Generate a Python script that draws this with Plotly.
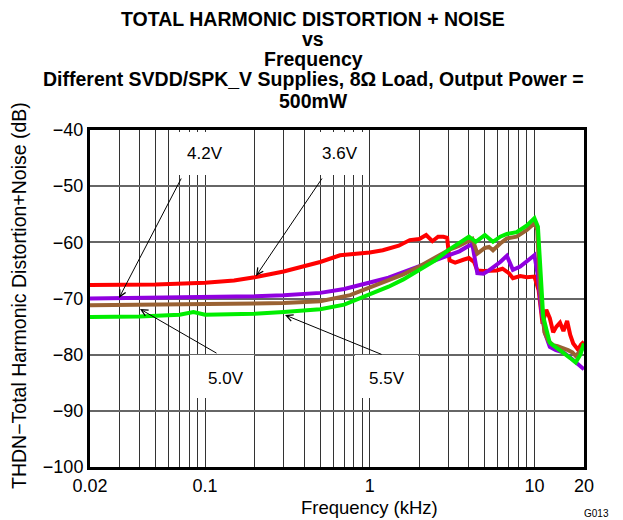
import math
import plotly.graph_objects as go

# ---------------- data ----------------
f_36 = [0.02, 0.05, 0.1, 0.15, 0.2, 0.3, 0.5, 0.66, 1.0, 1.2, 1.5, 1.75, 2.0, 2.2, 2.4, 2.6, 2.8, 2.95,
        3.05, 3.3, 3.7, 4.0, 4.3, 4.5, 4.9, 5.9, 6.4, 7.0, 7.4, 8.2, 9.0, 10.0, 10.6, 11.2, 11.8, 12.4,
        13.0, 13.6, 14.3, 15.0, 15.8, 16.5, 17.2, 18.4, 19.2, 20.0]
db_36 = [-67.6, -67.5, -67.2, -66.8, -66.2, -65.2, -63.5, -62.3, -61.8, -61.4, -60.6, -59.6, -59.4, -58.7,
         -59.8, -59.0, -59.0, -59.2, -63.2, -63.6, -63.1, -62.8, -63.5, -65.0, -65.1, -65.0, -64.7, -65.5,
         -66.4, -66.0, -66.2, -66.1, -68.5, -74.5, -72.0, -73.5, -76.0, -75.0, -74.3, -75.8, -74.0, -76.5,
         -78.0, -79.1, -78.2, -77.7]

f_42 = [0.02, 0.05, 0.1, 0.2, 0.3, 0.5, 0.7, 1.0, 1.3, 1.6, 2.0, 2.5, 3.0, 3.5, 4.0, 4.2, 4.5, 4.9, 5.3,
        5.6, 6.2, 6.8, 7.1, 7.4, 8.2, 9.0, 10.0, 10.5, 11.0, 11.6, 12.4, 13.5, 15.0, 16.5, 18.0, 20.0]
db_42 = [-70.0, -69.9, -69.8, -69.6, -69.4, -69.0, -68.3, -67.2, -66.3, -65.3, -64.2, -63.2, -62.2, -61.6,
         -60.6, -60.4, -65.5, -65.6, -65.0, -64.5, -63.5, -62.4, -63.8, -64.9, -64.3, -63.3, -62.3, -66.0,
         -72.0, -76.2, -78.6, -79.2, -79.6, -80.5, -81.5, -82.6]

f_50 = [0.02, 0.05, 0.1, 0.2, 0.3, 0.5, 0.76, 1.0, 1.3, 1.6, 2.0, 2.6, 3.0, 3.5, 4.0, 4.2, 4.5, 5.0, 5.3,
        5.6, 6.2, 6.8, 7.8, 9.0, 10.0, 10.4, 10.8, 11.5, 12.2, 13.0, 13.8, 15.0, 16.0, 17.0, 17.8, 18.8, 20.0]
db_50 = [-71.2, -71.1, -71.1, -70.9, -70.8, -70.5, -69.4, -68.0, -66.8, -65.7, -64.3, -62.5, -61.4, -60.6,
         -59.6, -59.4, -62.0, -61.0, -60.8, -61.4, -60.2, -59.3, -59.0, -57.8, -56.6, -57.8, -68.0, -76.0,
         -77.6, -78.3, -78.5, -78.8, -79.2, -79.6, -80.2, -79.5, -78.5]

f_55 = [0.02, 0.04, 0.07, 0.085, 0.1, 0.2, 0.3, 0.5, 0.7, 1.0, 1.3, 1.6, 2.0, 2.5, 3.0, 3.5, 4.0, 4.4,
        5.0, 5.6, 6.2, 6.8, 7.8, 9.0, 10.0, 10.5, 11.3, 12.4, 13.5, 15.0, 16.5, 17.8, 19.0, 20.0]
db_55 = [-73.3, -73.2, -72.9, -72.4, -72.9, -72.7, -72.4, -71.9, -71.1, -69.3, -67.9, -66.6, -65.0, -63.2,
         -61.4, -60.0, -59.0, -59.9, -58.7, -59.9, -59.0, -58.5, -58.2, -57.0, -55.7, -57.2, -73.2, -77.9,
         -78.8, -79.7, -80.6, -81.4, -80.0, -78.0]

series_names = ["3.6V", "4.2V", "5.0V", "5.5V"]

x_ticks = [0.02, 0.03, 0.04, 0.05, 0.06, 0.07, 0.08, 0.09, 0.1, 0.2, 0.3, 0.4, 0.5, 0.6, 0.7, 0.8, 0.9,
           1, 2, 3, 4, 5, 6, 7, 8, 9, 10, 20]
x_labels = {0.02: "0.02", 0.1: "0.1", 1: "1", 10: "10", 20: "20"}
y_ticks = [-100, -90, -80, -70, -60, -50, -40]

FONT = "Liberation Sans, Arial, sans-serif"

W, H = 623, 520
PL, PR, PT, PB = 90, 584, 130, 467          # plot-area edges in window pixels
XMIN, XMAX = math.log10(0.02), math.log10(20)
YMIN, YMAX = -100, -40


def px(xw):                      # window x -> paper
    return (xw - PL) / (PR - PL)


def py(yw):                      # window y -> paper
    return (PB - yw) / (PB - PT)


def lx(xw):                      # window x -> log10 data x
    return XMIN + (XMAX - XMIN) * px(xw)


def dy(yw):                      # window y -> data y
    return YMIN + (YMAX - YMIN) * py(yw)


fig = go.Figure()
colors = ["#ff0000", "#9000e0", "#9a6233", "#00ee00"]
for name, fx, fy, c in zip(series_names, [f_36, f_42, f_50, f_55], [db_36, db_42, db_50, db_55], colors):
    fig.add_trace(go.Scatter(x=fx, y=fy, mode="lines", name=name,
                             line=dict(color=c, width=4), showlegend=False))

fig.update_xaxes(type="log", range=[XMIN, XMAX],
                 tickvals=x_ticks, ticktext=[x_labels.get(v, "") for v in x_ticks],
                 showgrid=True, gridcolor="#333333", gridwidth=1,
                 showline=True, mirror=True, linecolor="black", linewidth=3,
                 ticks="", tickfont=dict(family=FONT, size=18, color="black"))
fig.update_yaxes(range=[YMIN, YMAX], tickvals=y_ticks,
                 ticktext=["\u2212" + str(abs(v)) for v in y_ticks],
                 showgrid=True, gridcolor="#666666", gridwidth=1.5,
                 showline=True, mirror=True, linecolor="black", linewidth=3,
                 ticks="", tickfont=dict(family=FONT, size=18, color="black"), zeroline=False)

# white label boxes (x0, x1, y0, y1 window px) with text centre
boxes = [("4.2V", 170, 254, 132, 175, 205, 153), ("3.6V", 306, 369, 132, 175, 340, 153),
         ("5.0V", 190, 254, 355, 398, 226, 378), ("5.5V", 355, 418, 355, 398, 387, 378)]
for t, x0, x1, y0, y1, tx, ty in boxes:
    fig.add_shape(type="rect", xref="x", yref="y", x0=10 ** lx(x0), x1=10 ** lx(x1), y0=dy(y1), y1=dy(y0),
                  fillcolor="white", line=dict(width=0), layer="above")
    fig.add_annotation(x=lx(tx), y=dy(ty), text=t, showarrow=False,
                       font=dict(family=FONT, size=17, color="black"))

# arrows (tail window px, head window px)
arrows = [((182, 177), (119, 298)), ((323, 177), (256, 276)),
          ((218, 354), (140, 309)), ((383, 355), (285, 315))]
for (tx, ty), (hx, hy) in arrows:
    fig.add_annotation(x=lx(hx), y=dy(hy), ax=lx(tx), ay=dy(ty), axref="x", ayref="y", text="",
                       showarrow=True, arrowhead=5, arrowsize=1.3, arrowwidth=1, arrowcolor="black",
                       standoff=0)

title_lines = [("TOTAL HARMONIC DISTORTION + NOISE", 19), ("vs", 39), ("Frequency", 59),
               ("Different SVDD/SPK_V Supplies, 8\u03a9 Load, Output Power =", 79), ("500mW", 101)]
for t, yw in title_lines:
    fig.add_annotation(xref="paper", yref="paper", x=px(313), y=py(yw),
                       text="<b>" + t + "</b>", showarrow=False, xanchor="center", yanchor="middle",
                       font=dict(family=FONT, size=19.5, color="black"))

fig.add_annotation(xref="paper", yref="paper", x=px(369), y=py(507), text="Frequency (kHz)",
                   showarrow=False, xanchor="center", yanchor="middle",
                   font=dict(family=FONT, size=18.5, color="black"))
fig.add_annotation(xref="paper", yref="paper", x=px(19), y=py(296),
                   text="THDN\u2212Total Harmonic Distortion+Noise (dB)", textangle=-90, showarrow=False,
                   xanchor="center", yanchor="middle", font=dict(family=FONT, size=19.5, color="black"))
fig.add_annotation(xref="paper", yref="paper", x=px(596), y=py(513),
                   text="G013", showarrow=False, xanchor="center", yanchor="middle",
                   font=dict(family=FONT, size=10, color="black"))

fig.update_layout(width=W, height=H,
                  margin=dict(l=PL, r=W - PR, t=PT, b=H - PB),
                  paper_bgcolor="white", plot_bgcolor="white")
fig.write_html("out.html", config={"displayModeBar": False},
               post_script="document.body.style.margin='0';")
